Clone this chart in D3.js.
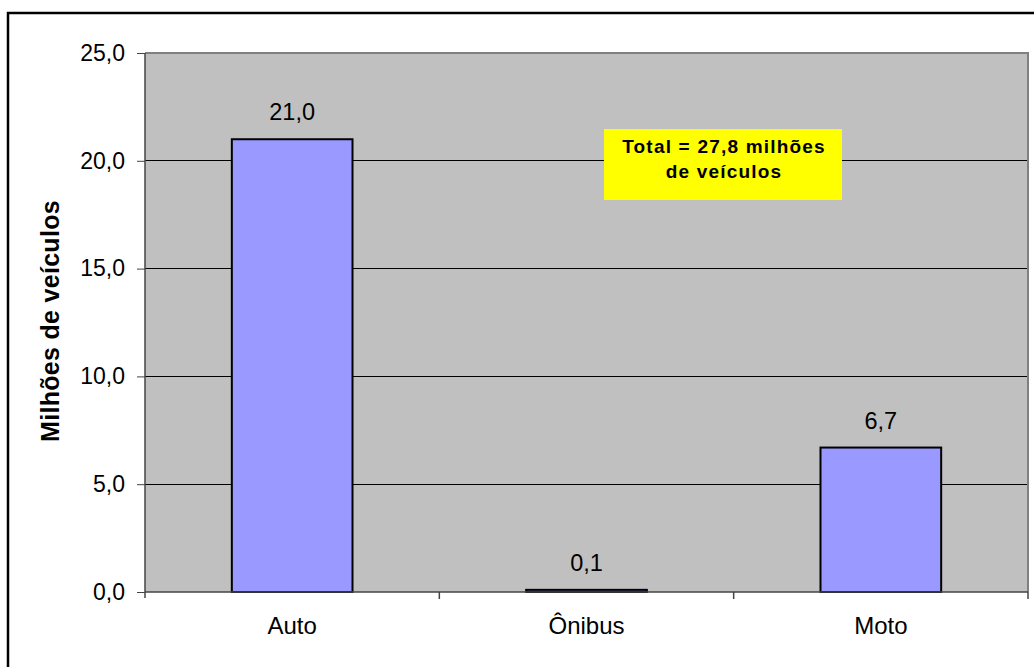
<!DOCTYPE html>
<html><head><meta charset="utf-8">
<script src="https://cdn.jsdelivr.net/npm/d3@7"></script>
<style>body{margin:0;background:#fff;} svg{display:block;} text{font-family:"Liberation Sans",Arial,sans-serif;}</style>
</head><body>
<svg id="c" width="1034" height="667"></svg>
<script>
const categories = ["Auto", "Ônibus", "Moto"];
const values = [21.0, 0.1, 6.7];
const valueLabels = ["21,0", "0,1", "6,7"];
const yTicks = [0, 5, 10, 15, 20, 25];
const yTickLabels = ["0,0", "5,0", "10,0", "15,0", "20,0", "25,0"];
const yTitle = "Milhões de veículos";
const noteLines = ["Total = 27,8 milhões", "de veículos"];

const svg = d3.select("#c");
const L = 145, R = 1028, T = 53, B = 592;
const FF = '"Liberation Sans",Arial,sans-serif';

svg.append("rect").attr("x", 8).attr("y", 13).attr("width", 1100).attr("height", 800)
  .attr("fill", "#fff").attr("stroke", "#000").attr("stroke-width", 2.5);

const x = d3.scaleBand().domain(categories).range([L, R]).padding(0);
const y = d3.scaleLinear().domain([0, 25]).range([B, T]);
const barW = x.bandwidth() * 0.41;

svg.append("rect").attr("x", L).attr("y", T).attr("width", R - L).attr("height", B - T)
  .attr("fill", "#c0c0c0");

// gridlines
svg.append("g").selectAll("line").data(yTicks.filter(d => d > 0 && d < 25)).join("line")
  .attr("x1", L).attr("x2", R).attr("y1", d => y(d)).attr("y2", d => y(d))
  .attr("stroke", "#000").attr("stroke-width", 1).attr("shape-rendering", "crispEdges");

// plot border top/right
svg.append("path").attr("d", `M${L},${T}H${R}V${B}`).attr("fill", "none")
  .attr("stroke", "#808080").attr("stroke-width", 2);

// bars
svg.append("g").selectAll("rect").data(categories).join("rect")
  .attr("x", d => x(d) + (x.bandwidth() - barW) / 2)
  .attr("y", (d, i) => y(values[i]))
  .attr("width", barW)
  .attr("height", (d, i) => y(0) - y(values[i]))
  .attr("fill", "#9999ff").attr("stroke", "#000").attr("stroke-width", 2);

// value labels
svg.append("g").selectAll("text").data(categories).join("text")
  .attr("x", d => x(d) + x.bandwidth() / 2)
  .attr("y", (d, i) => y(values[i]) - 19)
  .attr("text-anchor", "middle").attr("font-size", 23.5).attr("fill", "#000")
  .text((d, i) => valueLabels[i]);

// y axis
const yAxis = d3.axisLeft(y).tickValues(yTicks).tickFormat((d, i) => yTickLabels[i]).tickSize(8).tickPadding(12);
const gy = svg.append("g").attr("transform", `translate(${L},0)`).call(yAxis);
gy.select(".domain").attr("stroke", "#444").attr("stroke-width", 1.5).attr("d", `M0,${T}V${B + 6}`);
gy.selectAll(".tick line").attr("stroke", "#444");
gy.selectAll(".tick text").attr("font-size", 23).attr("fill", "#000").attr("font-family", FF);

// x axis
const xAxis = d3.axisBottom(x).tickSize(0).tickPadding(25);
const gx = svg.append("g").attr("transform", `translate(0,${B})`).call(xAxis);
gx.select(".domain").attr("stroke", "#444").attr("stroke-width", 1.5).attr("d", `M${L},0H${R}`);
gx.selectAll(".tick text").attr("font-size", 24).attr("fill", "#000").attr("font-family", FF);
// category boundary ticks
const bounds = categories.map(c => x(c) + x.bandwidth());
gx.append("g").selectAll("line").data(bounds).join("line")
  .attr("x1", d => d).attr("x2", d => d).attr("y1", 0).attr("y2", 7)
  .attr("stroke", "#444").attr("stroke-width", 1.5);

// y title
svg.append("text").attr("transform", `translate(59,321) rotate(-90)`)
  .attr("text-anchor", "middle").attr("font-size", 25).attr("font-weight", "bold")
  .attr("letter-spacing", 0.3).attr("fill", "#000").text(yTitle);

// note box
const nb = { x: 604, y: 129, w: 238, h: 71 };
svg.append("rect").attr("x", nb.x).attr("y", nb.y).attr("width", nb.w).attr("height", nb.h).attr("fill", "#ffff00");
svg.append("g").selectAll("text").data(noteLines).join("text")
  .attr("x", nb.x + nb.w / 2 + 1).attr("y", (d, i) => 153 + i * 25)
  .attr("text-anchor", "middle").attr("font-size", 19).attr("font-weight", "bold")
  .attr("letter-spacing", 1.2).attr("fill", "#000").text(d => d);
</script>
</body></html>
